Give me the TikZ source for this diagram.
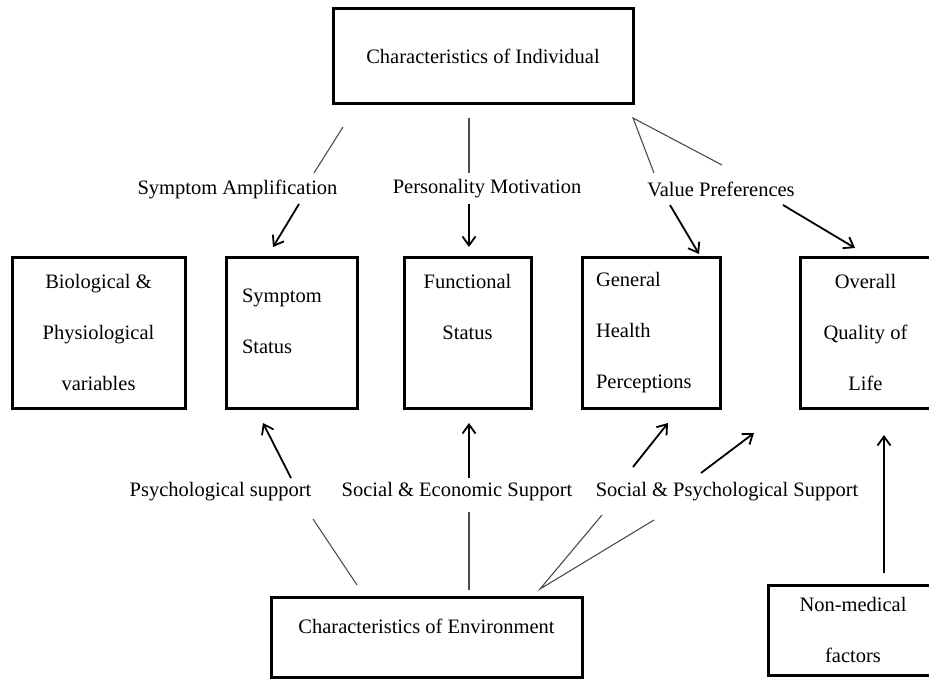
\documentclass[tikz,border=0pt]{standalone}
\usepackage{fontspec}
\setmainfont{Liberation Serif}
\usetikzlibrary{arrows.meta,positioning}

\begin{document}
\begin{tikzpicture}[x=1pt,y=-1pt,>={Straight Barb[length=9pt,width=13pt]}]
    \tikzstyle{box}=[rectangle, draw, line width=3pt, inner sep=0pt, font=\fontsize{20.5}{51}\selectfont]
    \tikzstyle{lbl}=[inner sep=0pt, font=\fontsize{20.5}{25}\selectfont]
    \tikzstyle{link}=[draw=black!70, line width=1.1pt]
    \tikzstyle{arr}=[->, line width=1.8pt]

    \useasboundingbox (0,0) rectangle (929,679);
    \clip (0,0) rectangle (929,679);

    \node[box, minimum width=300, minimum height=95] (ind) at (483,56.5) {Characteristics of Individual};

    \node[box, minimum width=173, minimum height=151, align=center] (bio) at (98.5,332.5) {Biological \&\\Physiological\\variables};
    \node[box, minimum width=131, minimum height=151, align=left, text width=99] (sym) at (291.5,332.5) {Symptom\\Status\\[-28pt]\mbox{}};
    \node[box, minimum width=127, minimum height=151, align=center] (fun) at (467.5,332.5) {Functional\\Status\\\mbox{}};
    \node[box, minimum width=138, minimum height=151, align=left, text width=110] (gen) at (651,332.5) {General\\Health\\Perceptions};
    \node[box, minimum width=131, minimum height=151, align=center] (ovr) at (865.5,332.5) {Overall\\Quality of\\Life};

    \node[box, minimum width=311, minimum height=80, align=center] (env) at (426.5,637) {Characteristics of Environment\\[-30pt]\mbox{}};
    \node[box, minimum width=170, minimum height=90, align=center] (nm) at (853,630) {Non-medical\\factors};

    \node[lbl] (sa) at (237.5,189) {Symptom Amplification};
    \node[lbl] (pm) at (487,189) {Personality Motivation};
    \node[lbl] (vp) at (721,189) {Value Preferences};
    \node[lbl] (ps) at (220.5,492) {Psychological support};
    \node[lbl] (se) at (457,492) {Social \& Economic Support};
    \node[lbl] (sps) at (727,492) {Social \& Psychological Support};

    \coordinate (sa1) at (343,127);  \coordinate (sa2) at (314,173);
    \coordinate (sa3) at (299,204);  \coordinate (sa4) at (273,247);
    \coordinate (pm1) at (469,118);  \coordinate (pm2) at (469,173);
    \coordinate (pm3) at (469,204);  \coordinate (pm4) at (469,247);
    \coordinate (vp0) at (633,118);
    \coordinate (vp1) at (654,173);  \coordinate (vp2) at (722,165);
    \coordinate (vp3) at (670,205);  \coordinate (vp4) at (699,254);
    \coordinate (vp5) at (783,205);  \coordinate (vp6) at (855,248);

    \coordinate (ps1) at (357,585);  \coordinate (ps2) at (313,519);
    \coordinate (ps3) at (291,478);  \coordinate (ps4) at (263,423);
    \coordinate (se1) at (469,590);  \coordinate (se2) at (469,512);
    \coordinate (se3) at (469,478);  \coordinate (se4) at (469,423);
    \coordinate (sp0) at (540,589);
    \coordinate (sp1) at (602,515);  \coordinate (sp2) at (654,520);
    \coordinate (sp3) at (633,467);  \coordinate (sp4) at (668,423);
    \coordinate (sp5) at (701,473);  \coordinate (sp6) at (754,433);
    \coordinate (nm1) at (884,573);  \coordinate (nm2) at (884,435);

    \draw[link] (sa1) -- (sa2);
    \draw[arr] (sa3) -- (sa4);
    \draw[link] (pm1) -- (pm2);
    \draw[arr] (pm3) -- (pm4);
    \draw[link] (vp1) -- (vp0) -- (vp2);
    \draw[arr] (vp3) -- (vp4);
    \draw[arr] (vp5) -- (vp6);

    \draw[link] (ps1) -- (ps2);
    \draw[arr] (ps3) -- (ps4);
    \draw[link] (se1) -- (se2);
    \draw[arr] (se3) -- (se4);
    \draw[link] (sp1) -- (sp0) -- (sp2);
    \draw[arr] (sp3) -- (sp4);
    \draw[arr] (sp5) -- (sp6);
    \draw[arr] (nm1) -- (nm2);
\end{tikzpicture}
\end{document}
